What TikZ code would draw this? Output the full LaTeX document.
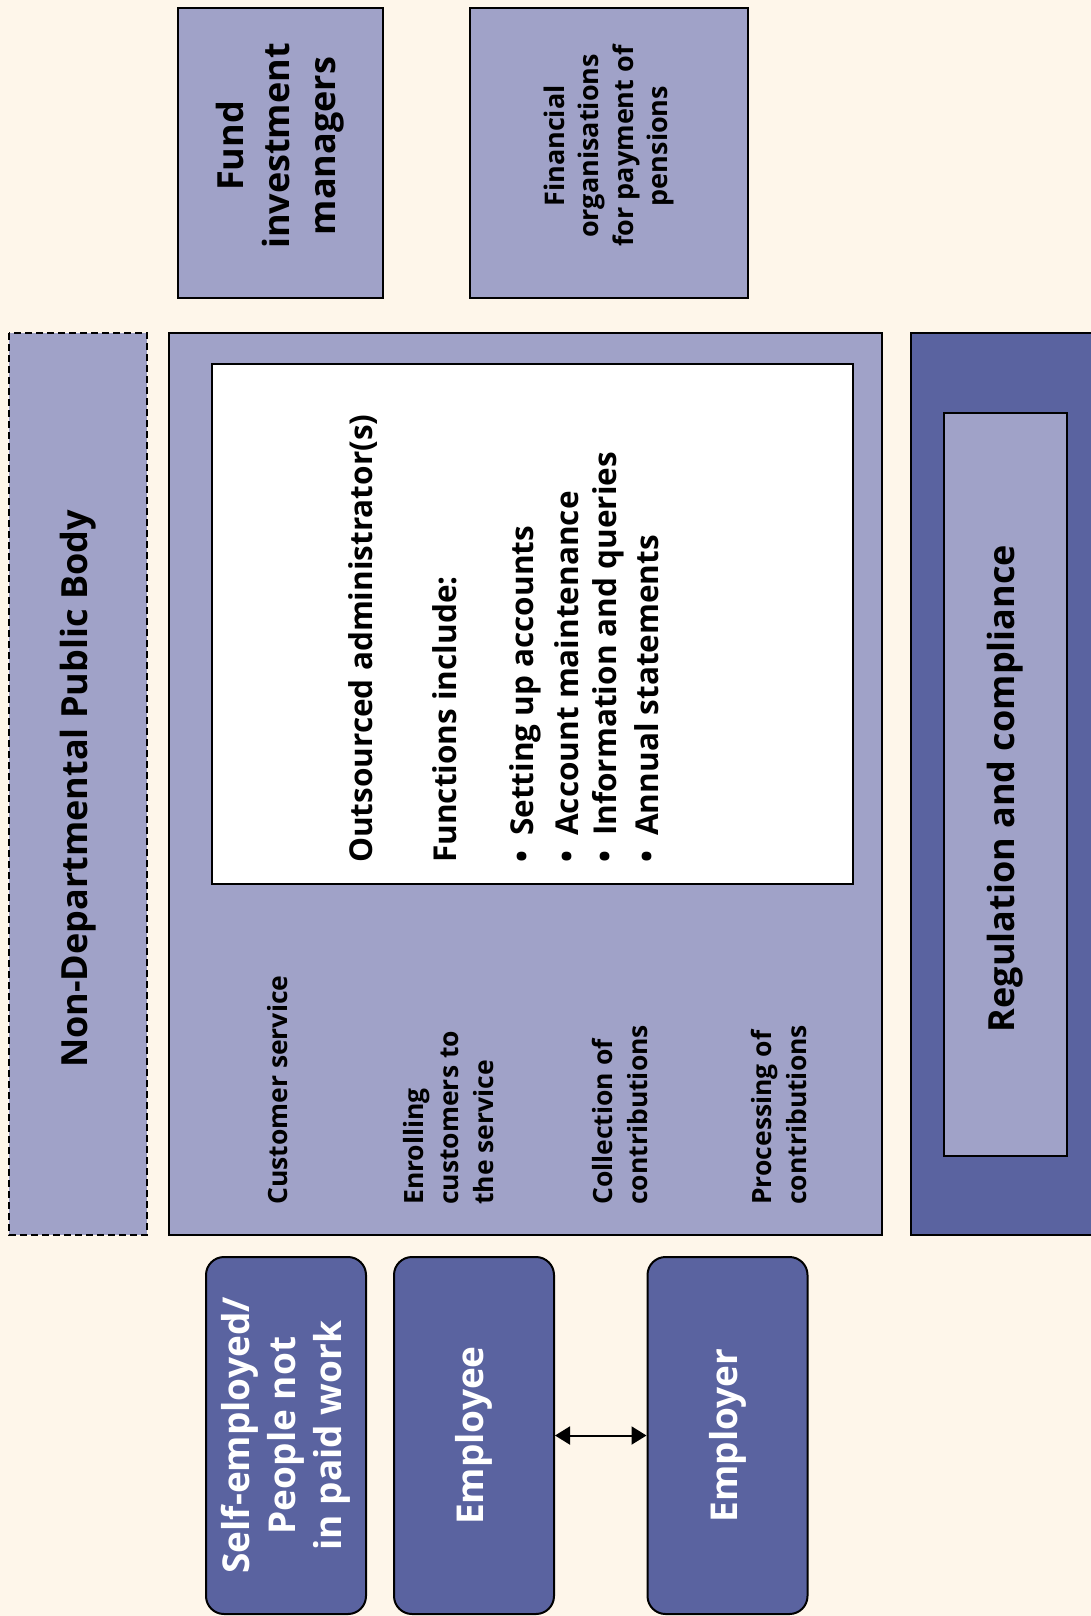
\documentclass[tikz,border=0pt]{standalone}
\usepackage{fontspec}
\setmainfont{Open Sans}
\usetikzlibrary{arrows.meta}
\definecolor{bg}{HTML}{FEF6EA}
\definecolor{lightp}{HTML}{A0A2C8}
\definecolor{darkp}{HTML}{5A63A0}
\newcommand{\upsh}{\hspace*{14pt}}
\begin{document}
\begin{tikzpicture}[x=1pt,y=-1pt,
  lbox/.style={draw=black, line width=2pt, fill=lightp, inner sep=0pt, rotate=90, align=center},
  dbox/.style={draw=black, line width=2pt, fill=darkp, inner sep=0pt, rotate=90, align=center},
  pbox/.style={dbox, rounded corners=18pt, text=white, minimum width=357pt, minimum height=160pt},
  lbl/.style={rotate=90, anchor=west, inner sep=0pt, align=left, font=\bfseries\fontsize{26.5}{35}\selectfont},
  wtxt/.style={rotate=90, anchor=west, inner sep=0pt, align=left, font=\bfseries\fontsize{31.5}{36}\selectfont},
  dbl/.style={line width=2pt, {Triangle[length=15pt,width=18pt]}-{Triangle[length=15pt,width=18pt]}}
]
\useasboundingbox (0,0) rectangle (1091,1616);
\fill[bg] (0,0) rectangle (1091,1616);

% top boxes
\node[lbox, minimum width=290pt, minimum height=205pt, font=\bfseries\fontsize{36}{46}\selectfont] (fund) at (280.5,153) {\upsh Fund\\\upsh investment\\\upsh managers};
\node[lbox, minimum width=290pt, minimum height=278pt, font=\bfseries\fontsize{27}{34.5}\selectfont] (fin) at (609,153) {\upsh Financial\\\upsh organisations\\\upsh for payment of\\\upsh pensions};

% NDPB
\node[lbox, dashed, dash pattern=on 7pt off 4pt, minimum width=902pt, minimum height=138pt, font=\bfseries\fontsize{36}{40}\selectfont] (ndpb) at (78,784) {Non-Departmental Public Body\hspace*{10pt}};

% main box
\node[lbox, minimum width=902pt, minimum height=713pt] (main) at (525.5,784) {};
\node[lbox, fill=white, minimum width=520pt, minimum height=641pt] (admin) at (532.5,624) {};

\node[wtxt] (out) at (363,863) {Outsourced administrator(s)};
\node[wtxt] (fun) at (445,863) {Functions include:};
\node[wtxt] (b1) at (525,863) {\makebox[27pt][l]{•}Setting up accounts};
\node[wtxt] (b2) at (567,863) {\makebox[27pt][l]{•}Account maintenance};
\node[wtxt] (b3) at (608,863) {\makebox[27pt][l]{•}Information and queries};
\node[wtxt] (b4) at (647,863) {\makebox[27pt][l]{•}Annual statements};

\node[lbl] (cs) at (278,1205) {Customer service};
\node[lbl] (enr) at (449,1205) {Enrolling\\customers to\\the service};
\node[lbl] (col) at (620,1205) {Collection of\\contributions};
\node[lbl] (proc) at (778.5,1205) {Processing of\\contributions};

% regulation
\node[dbox, minimum width=902pt, minimum height=189pt] (regout) at (1005.5,784) {};
\node[lbox, minimum width=743pt, minimum height=123pt, font=\bfseries\fontsize{36}{40}\selectfont] (reg) at (1005.5,784.5) {Regulation and compliance\hspace*{8pt}};

% people
\node[pbox, font=\bfseries\fontsize{37}{46}\selectfont] (self) at (286,1435.5) {Self-employed/\\People not\\in paid work};
\node[pbox, font=\bfseries\fontsize{37}{46}\selectfont] (employee) at (474,1435.5) {Employee};
\node[pbox, font=\bfseries\fontsize{37}{46}\selectfont] (employer) at (727.5,1435.5) {Employer};

\draw[dbl] (employee) -- (employer);
\end{tikzpicture}
\end{document}
